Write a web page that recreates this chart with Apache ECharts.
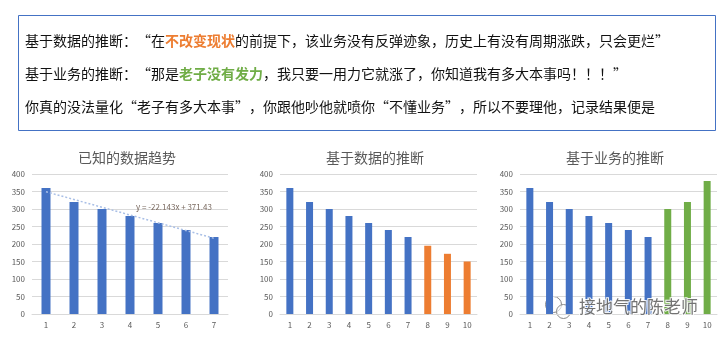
<!DOCTYPE html>
<html><head><meta charset="utf-8">
<script src="https://cdn.jsdelivr.net/npm/echarts@6/dist/echarts.min.js"></script>
<style>html,body{margin:0;padding:0;background:#fff}#c{width:728px;height:340px}</style>
</head><body><div id="c"></div>
<script>
const catsKnown = ['1','2','3','4','5','6','7'];
const catsForecast = ['1','2','3','4','5','6','7','8','9','10'];
const knownValues = [360,320,300,280,260,240,220];
const dataForecastValues = [195,172,150];
const bizForecastValues = [300,320,380];
const trendEndpoints = [349.3, 216.4];
const trendLabel = 'y = -22.143x + 371.43';
const chartTitles = ['已知的数据趋势','基于数据的推断','基于业务的推断'];
const yTicks = {min:0, max:400, interval:50};

const FONT = '"Noto Sans CJK SC", sans-serif';
const BLUE = '#4472c4', ORANGE = '#ed7d31', GREEN = '#70ad47', GRAY = '#595959';

const chart = echarts.init(document.getElementById('c'), null, {renderer:'canvas'});

const grids = [
  {left:32, top:174, width:196, height:140},
  {left:280, top:174, width:197, height:140},
  {left:520, top:174, width:197, height:140}
];
function xAx(i, cats){
  return {type:'category', gridIndex:i, data:cats,
    axisLine:{show:true, lineStyle:{color:'#d9d9d9'}}, axisTick:{show:false},
    axisLabel:{color:GRAY, fontSize:8, fontFamily:FONT, margin:7}};
}
function yAx(i){
  return {type:'value', gridIndex:i, min:yTicks.min, max:yTicks.max, interval:yTicks.interval,
    axisLine:{show:false}, axisTick:{show:false},
    splitLine:{lineStyle:{color:'#d9d9d9'}},
    axisLabel:{color:GRAY, fontSize:8, fontFamily:FONT, margin:7}};
}
const pad = n => Array(n).fill('-');
const trendData = [trendEndpoints[0]].concat(Array(catsKnown.length-2).fill(null)).concat([trendEndpoints[1]]);

const option = {
  animation:false,
  title: chartTitles.map((t,i)=>({text:t, left:[122,370,610][i], top:146, textAlign:'center',
    textStyle:{fontSize:14, fontWeight:'normal', color:GRAY, fontFamily:FONT}})),
  grid: grids,
  xAxis:[xAx(0,catsKnown), xAx(1,catsForecast), xAx(2,catsForecast)],
  yAxis:[yAx(0), yAx(1), yAx(2)],
  series:[
    {type:'bar', xAxisIndex:0, yAxisIndex:0, data:knownValues, barWidth:9, itemStyle:{color:BLUE}},
    {type:'line', xAxisIndex:0, yAxisIndex:0, data:trendData, connectNulls:true, symbol:'none',
      lineStyle:{color:'#a9bfe6', width:1.5, type:[2,2]}, z:5},
    {type:'bar', xAxisIndex:1, yAxisIndex:1, stack:'b', data:knownValues.concat(pad(3)), barWidth:7, itemStyle:{color:BLUE}},
    {type:'bar', xAxisIndex:1, yAxisIndex:1, stack:'b', data:pad(7).concat(dataForecastValues), barWidth:7, itemStyle:{color:ORANGE}},
    {type:'bar', xAxisIndex:2, yAxisIndex:2, stack:'c', data:knownValues.concat(pad(3)), barWidth:7, itemStyle:{color:BLUE}},
    {type:'bar', xAxisIndex:2, yAxisIndex:2, stack:'c', data:pad(7).concat(bizForecastValues), barWidth:7, itemStyle:{color:GREEN}}
  ],
  graphic:[
    {type:'rect', shape:{x:18.5, y:15.5, width:697, height:115}, style:{fill:'#fff', stroke:BLUE, lineWidth:1}, z:1},
    {type:'text', left:25, top:34, z:2, style:{
      text:'{k|基于数据的推断：“在}{o|不改变现状}{k|的前提下，该业务没有反弹迹象，历史上有没有周期涨跌，只会更烂”}',
      rich:{k:{fontSize:14, fill:'#111', fontFamily:FONT}, o:{fontSize:14, fill:ORANGE, fontWeight:'bold', fontFamily:FONT}}}},
    {type:'text', left:25, top:67, z:2, style:{
      text:'{k|基于业务的推断：“那是}{g|老子没有发力}{k|，我只要一用力它就涨了，你知道我有多大本事吗！！！”}',
      rich:{k:{fontSize:14, fill:'#111', fontFamily:FONT}, g:{fontSize:14, fill:GREEN, fontWeight:'bold', fontFamily:FONT}}}},
    {type:'text', left:25, top:100, z:2, style:{
      text:'你真的没法量化“老子有多大本事”，你跟他吵他就喷你“不懂业务”，所以不要理他，记录结果便是',
      fontSize:14, fill:'#111', fontFamily:FONT}},
    {type:'text', left:136, top:203, z:6, style:{text:trendLabel, fontSize:8, fill:'#7a6a60', fontFamily:FONT}},
    {type:'group', left:545, top:296, z:10, children:[
      {type:'circle', shape:{cx:9, cy:9, r:8}, style:{fill:'rgba(255,255,255,0.6)', stroke:'#888', lineWidth:1}},
      {type:'circle', shape:{cx:19, cy:16, r:7}, style:{fill:'rgba(255,255,255,0.6)', stroke:'#888', lineWidth:1}}
    ]},
    {type:'text', left:578, top:297, z:10, style:{text:'接地气的陈老师', fontSize:17, fill:'rgba(90,90,90,0.85)',
      stroke:'rgba(255,255,255,0.9)', lineWidth:2, fontFamily:FONT}}
  ]
};
chart.setOption(option);
</script></body></html>
